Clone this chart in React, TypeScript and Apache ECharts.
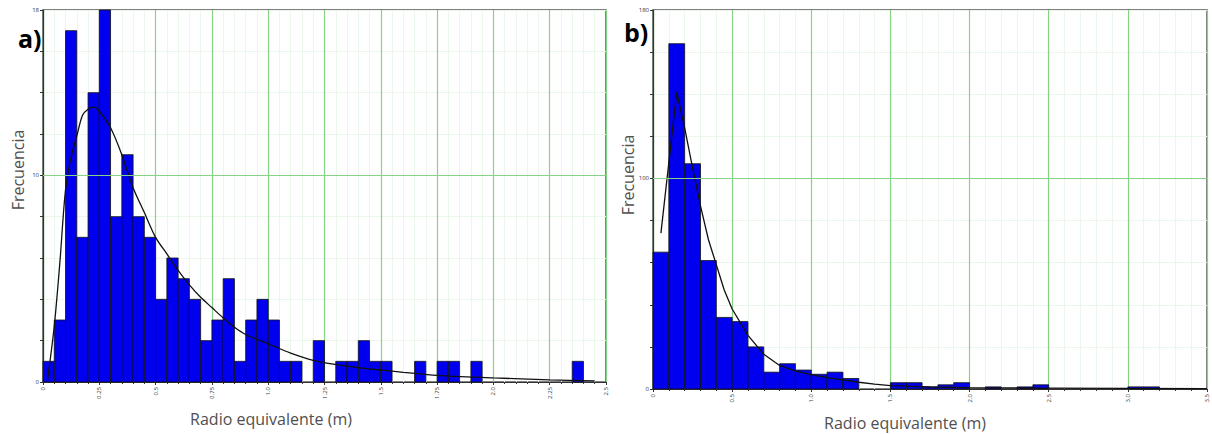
import React, { useEffect, useRef } from "react";
import * as echarts from "echarts";

// ---- Data ----
const binWidthA = 0.05;
const countsA = [
  1, 3, 17, 7, 14, 18, 8, 11, 8, 7,
  4, 6, 5, 4, 2, 3, 5, 1, 3, 4,
  3, 1, 1, 0, 2, 0, 1, 1, 2, 1,
  1, 0, 0, 1, 0, 1, 1, 0, 1, 0,
  0, 0, 0, 0, 0, 0, 0, 1, 0, 0,
];
const curveAx = [0.02, 0.05, 0.075, 0.1, 0.125, 0.15, 0.175, 0.2, 0.225, 0.25, 0.3, 0.35, 0.4, 0.45, 0.5, 0.55, 0.6, 0.65, 0.7, 0.75, 0.8, 0.85, 0.9, 1.0, 1.1, 1.2, 1.3, 1.4, 1.5, 1.6, 1.75, 2.0, 2.25, 2.45];
const curveAy = [0.1, 2.7, 5.8, 9.3, 10.9, 11.9, 12.9, 13.2, 13.3, 13.1, 12.3, 11.0, 9.4, 8.2, 7.0, 6.2, 5.4, 4.7, 4.1, 3.6, 3.1, 2.65, 2.3, 1.85, 1.4, 1.05, 0.85, 0.7, 0.58, 0.47, 0.32, 0.2, 0.1, 0.05];
const xTicksA = ["0", "0.25", "0.5", "0.75", "1.0", "1.25", "1.5", "1.75", "2.0", "2.25", "2.5"];
const yLabelsA = [0, 10, 18];
const yMajorA = 10;

const binWidthB = 0.1;
const countsB = [
  65, 164, 107, 61, 34, 32, 20, 8, 12, 9,
  7, 8, 5, 0, 0, 3, 3, 1, 2, 3,
  0, 1, 0, 1, 2, 0, 0, 0, 0, 0,
  1, 1, 0, 0, 0,
];
const curveBx = [0.05, 0.15, 0.2, 0.25, 0.3, 0.35, 0.4, 0.45, 0.5, 0.6, 0.7, 0.8, 0.9, 1.0, 1.1, 1.2, 1.3, 1.4, 1.5, 1.75, 2.0, 2.5, 3.0, 3.5];
const curveBy = [74, 141, 124, 105, 87, 71, 59, 47, 38, 25.5, 16.5, 11.2, 8.5, 6.8, 5.4, 4.3, 3.2, 2.3, 1.6, 1.0, 0.6, 0.4, 0.3, 0.2];
const xTicksB = ["0", "0.5", "1.0", "1.5", "2.0", "2.5", "3.0", "3.5"];
const yLabelsB = [0, 100, 180];
const yMajorB = 100;

const MAJOR = "#86d386";
const MINOR = "#ebf7eb";
const BAR = "#0000ee";
const FONT = "'Open Sans', 'Noto Sans', sans-serif";

function histData(counts: number[], w: number) {
  return counts
    .map((c, i) => [+(i * w).toFixed(4), +((i + 1) * w).toFixed(4), c])
    .filter((d) => d[2] > 0);
}

function renderBar(params: any, api: any) {
  const x0 = api.value(0);
  const x1 = api.value(1);
  const y = api.value(2);
  const p0 = api.coord([x0, y]);
  const p1 = api.coord([x1, 0]);
  return {
    type: "rect",
    shape: { x: p0[0], y: p0[1], width: p1[0] - p0[0], height: p1[1] - p0[1] },
    style: { fill: BAR, stroke: "#111", lineWidth: 0.8 },
  };
}

function fmtTick(labels: string[], step: number) {
  return (v: number) => {
    const k = Math.round(v / step);
    if (Math.abs(v / step - k) < 1e-6 && labels[k] !== undefined) return labels[k];
    return "";
  };
}

export default function App() {
  const ref = useRef<HTMLDivElement>(null);
  useEffect(() => {
    if (!ref.current) return;
    const chart = echarts.init(ref.current, null, { renderer: "svg" });
    const xAxisCommon = (max: number, interval: number, labels: string[], gridIndex: number) => ({
      type: "value",
      gridIndex,
      min: 0,
      max,
      interval,
      axisLine: { show: true, lineStyle: { color: "#333", width: 1.2 } },
      axisTick: { show: true, length: 3, lineStyle: { color: "#333" } },
      minorTick: { show: true, splitNumber: 5, length: 2, lineStyle: { color: "#333" } },
      splitLine: { show: true, lineStyle: { color: MAJOR, width: 1.2 } },
      minorSplitLine: { show: true, lineStyle: { color: MINOR, width: 1 } },
      axisLabel: {
        rotate: 90,
        fontSize: 6,
        color: "#333",
        margin: 5,
        fontFamily: FONT,
        formatter: fmtTick(labels, interval),
      },
    });
    const yAxisCommon = (max: number, interval: number, labels: number[], gridIndex: number) => ({
      type: "value",
      gridIndex,
      min: 0,
      max,
      interval,
      axisLine: { show: true, lineStyle: { color: "#333", width: 1.2 } },
      axisTick: { show: true, length: 3, lineStyle: { color: "#333" } },
      splitLine: { show: true, lineStyle: { color: MINOR, width: 1 } },
      axisLabel: {
        fontSize: 6,
        color: "#333",
        margin: 4,
        fontFamily: FONT,
        formatter: (v: number) => (labels.indexOf(v) >= 0 ? String(v) : ""),
      },
    });
    const majorLine = (xi: number, yv: number) => ({
      type: "line",
      xAxisIndex: xi,
      yAxisIndex: xi,
      data: [],
      z: 1,
      silent: true,
      markLine: {
        silent: true,
        symbol: ["none", "none"],
        label: { show: false },
        lineStyle: { color: MAJOR, width: 1.2, type: "solid" },
        data: [{ yAxis: yv }],
      },
    });
    chart.setOption({
      animation: false,
      backgroundColor: "#ffffff",
      grid: [
        { left: 43, top: 10, width: 563, height: 372, show: true, borderColor: "#555", borderWidth: 1.5, backgroundColor: "transparent" },
        { left: 653, top: 10, width: 554, height: 379, show: true, borderColor: "#555", borderWidth: 1.5, backgroundColor: "transparent" },
      ],
      xAxis: [xAxisCommon(2.5, 0.25, xTicksA, 0), xAxisCommon(3.5, 0.5, xTicksB, 1)],
      yAxis: [yAxisCommon(18, 2, yLabelsA, 0), yAxisCommon(180, 20, yLabelsB, 1)],
      series: [
        majorLine(0, yMajorA),
        majorLine(1, yMajorB),
        {
          type: "custom",
          xAxisIndex: 0,
          yAxisIndex: 0,
          renderItem: renderBar,
          encode: { x: [0, 1], y: 2 },
          data: histData(countsA, binWidthA),
          z: 2,
        },
        {
          type: "line",
          xAxisIndex: 0,
          yAxisIndex: 0,
          showSymbol: false,
          smooth: 0.3,
          lineStyle: { color: "#111", width: 1.3 },
          data: curveAx.map((x, i) => [x, curveAy[i]]),
          z: 3,
        },
        {
          type: "custom",
          xAxisIndex: 1,
          yAxisIndex: 1,
          renderItem: renderBar,
          encode: { x: [0, 1], y: 2 },
          data: histData(countsB, binWidthB),
          z: 2,
        },
        {
          type: "line",
          xAxisIndex: 1,
          yAxisIndex: 1,
          showSymbol: false,
          smooth: false,
          lineStyle: { color: "#111", width: 1.3 },
          data: curveBx.map((x, i) => [x, curveBy[i]]),
          z: 3,
        },
      ],
      graphic: [
        { type: "text", left: 18, top: 25, style: { text: "a)", font: `bold 25px ${FONT}`, fill: "#000" } },
        { type: "text", left: 624, top: 19, style: { text: "b)", font: `bold 25px ${FONT}`, fill: "#000" } },
        {
          type: "text",
          x: 18,
          y: 170,
          rotation: Math.PI / 2,
          style: { text: "Frecuencia", font: `16px ${FONT}`, fill: "#505050", align: "center", verticalAlign: "middle" },
        },
        {
          type: "text",
          x: 628,
          y: 175,
          rotation: Math.PI / 2,
          style: { text: "Frecuencia", font: `16px ${FONT}`, fill: "#505050", align: "center", verticalAlign: "middle" },
        },
        {
          type: "text",
          x: 271,
          y: 419,
          style: { text: "Radio equivalente (m)", font: `16px ${FONT}`, fill: "#505050", align: "center", verticalAlign: "middle" },
        },
        {
          type: "text",
          x: 905,
          y: 423,
          style: { text: "Radio equivalente (m)", font: `16px ${FONT}`, fill: "#505050", align: "center", verticalAlign: "middle" },
        },
      ],
    });
    return () => chart.dispose();
  }, []);
  return (
    <div
      ref={ref}
      style={{ position: "fixed", left: 0, top: 0, width: 1212, height: 434, background: "#fff" }}
    />
  );
}
